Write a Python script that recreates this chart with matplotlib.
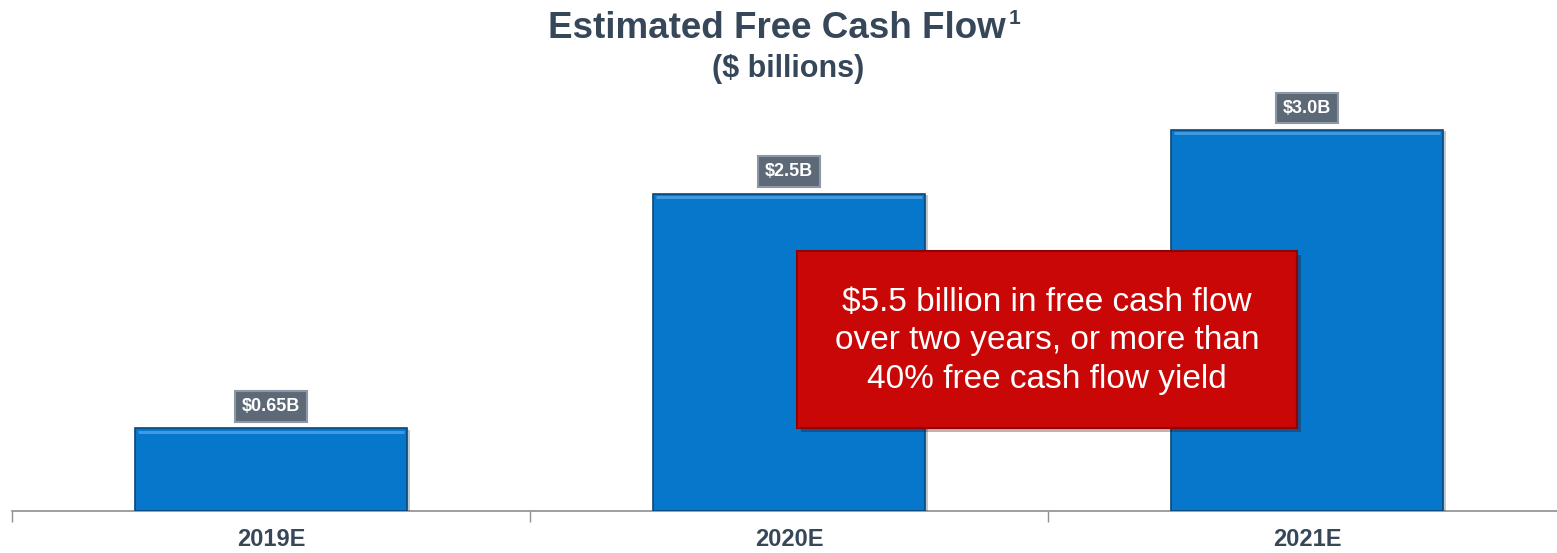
import matplotlib
matplotlib.use("Agg")
import matplotlib.pyplot as plt
import matplotlib.patheffects as pe
from matplotlib.patches import FancyBboxPatch

plt.rcParams['font.family'] = ['Liberation Sans', 'DejaVu Sans']

# Data
categories = ["2019E", "2020E", "2021E"]
values = [0.65, 2.5, 3.0]
value_labels = ["$0.65B", "$2.5B", "$3.0B"]

title = "Estimated Free Cash Flow"
footnote_mark = "1"
subtitle = "($ billions)"
callout = "$5.5 billion in free cash flow\nover two years, or more than\n40% free cash flow yield"

# Styles
W, H, DPI = 1557, 553, 100
bar_color = "#0777CB"
bar_edge = "#0B4676"
bar_highlight = "#3E9BE3"
label_box = "#5D6977"
label_edge = "#8C98A5"
text_dark = "#36475A"
axis_gray = "#8F8F8F"
callout_red = "#C90707"

fig = plt.figure(figsize=(W / DPI, H / DPI), dpi=DPI)
fig.patch.set_facecolor("white")

ax = fig.add_axes([12 / W, 1 - 511 / H, 1554 / W, 416 / H])
x = list(range(len(categories)))
bars = ax.bar(x, values, width=0.525, color=bar_color, edgecolor=bar_edge,
              linewidth=1.2, zorder=3)
for b in bars:
    b.set_path_effects([pe.SimplePatchShadow(offset=(2, -1), alpha=0.25),
                        pe.Normal()])
    # light bevel strip along the top edge of each bar
    ax.plot([b.get_x() + 0.006, b.get_x() + b.get_width() - 0.006],
            [b.get_height() - 0.025] * 2, color=bar_highlight, lw=2.2,
            solid_capstyle="butt", zorder=4)

ax.set_xlim(-0.5, 2.5)
ax.set_ylim(0, 3.276)

# value tags above the bars
for xi, v, lab in zip(x, values, value_labels):
    ax.annotate(lab, (xi, v), xytext=(0, 15.8), textcoords="offset points",
                ha="center", va="center", fontsize=13, fontweight="bold",
                color="white", zorder=6,
                bbox=dict(boxstyle="square,pad=0.38", fc=label_box,
                          ec=label_edge, lw=1.5))

# axis styling
for s in ["top", "right", "left"]:
    ax.spines[s].set_visible(False)
ax.spines["bottom"].set_color(axis_gray)
ax.spines["bottom"].set_linewidth(1.2)
ax.set_yticks([])
ax.set_xticks(x)
ax.set_xticklabels(categories, fontsize=17, fontweight="bold", color=text_dark)
ax.tick_params(axis="x", which="major", length=0, pad=12)
ax.set_xticks([-0.5, 0.5, 1.5, 2.5], minor=True)
ax.tick_params(axis="x", which="minor", length=8, width=1, color=axis_gray)

# titles
t = fig.text(777 / W, 1 - 29 / H, title, ha="center", va="center",
             fontsize=26.5, fontweight="bold", color=text_dark)
fig.canvas.draw()
tb = t.get_window_extent()
fig.text((tb.x1 + 3) / W, 1 - 19 / H, footnote_mark, ha="left", va="center",
         fontsize=15, fontweight="bold", color=text_dark)
fig.text(788 / W, 1 - 69 / H, subtitle, ha="center", va="center",
         fontsize=22, fontweight="bold", color=text_dark)

# callout box
bx0, by0, bw, bh = 797 / W, 1 - 428 / H, 500 / W, 177 / H
box = FancyBboxPatch((bx0, by0), bw, bh, boxstyle="square,pad=0",
                     transform=fig.transFigure, fc=callout_red,
                     ec="#8E0404", lw=1.5, zorder=10,
                     path_effects=[pe.SimplePatchShadow(offset=(3, -3), alpha=0.3),
                                   pe.Normal()])
fig.add_artist(box)
fig.text(bx0 + bw / 2, 1 - 341 / H, callout, ha="center", va="center",
         fontsize=24, color="white", linespacing=1.32, zorder=11)

fig.savefig("out.png", dpi=DPI)
